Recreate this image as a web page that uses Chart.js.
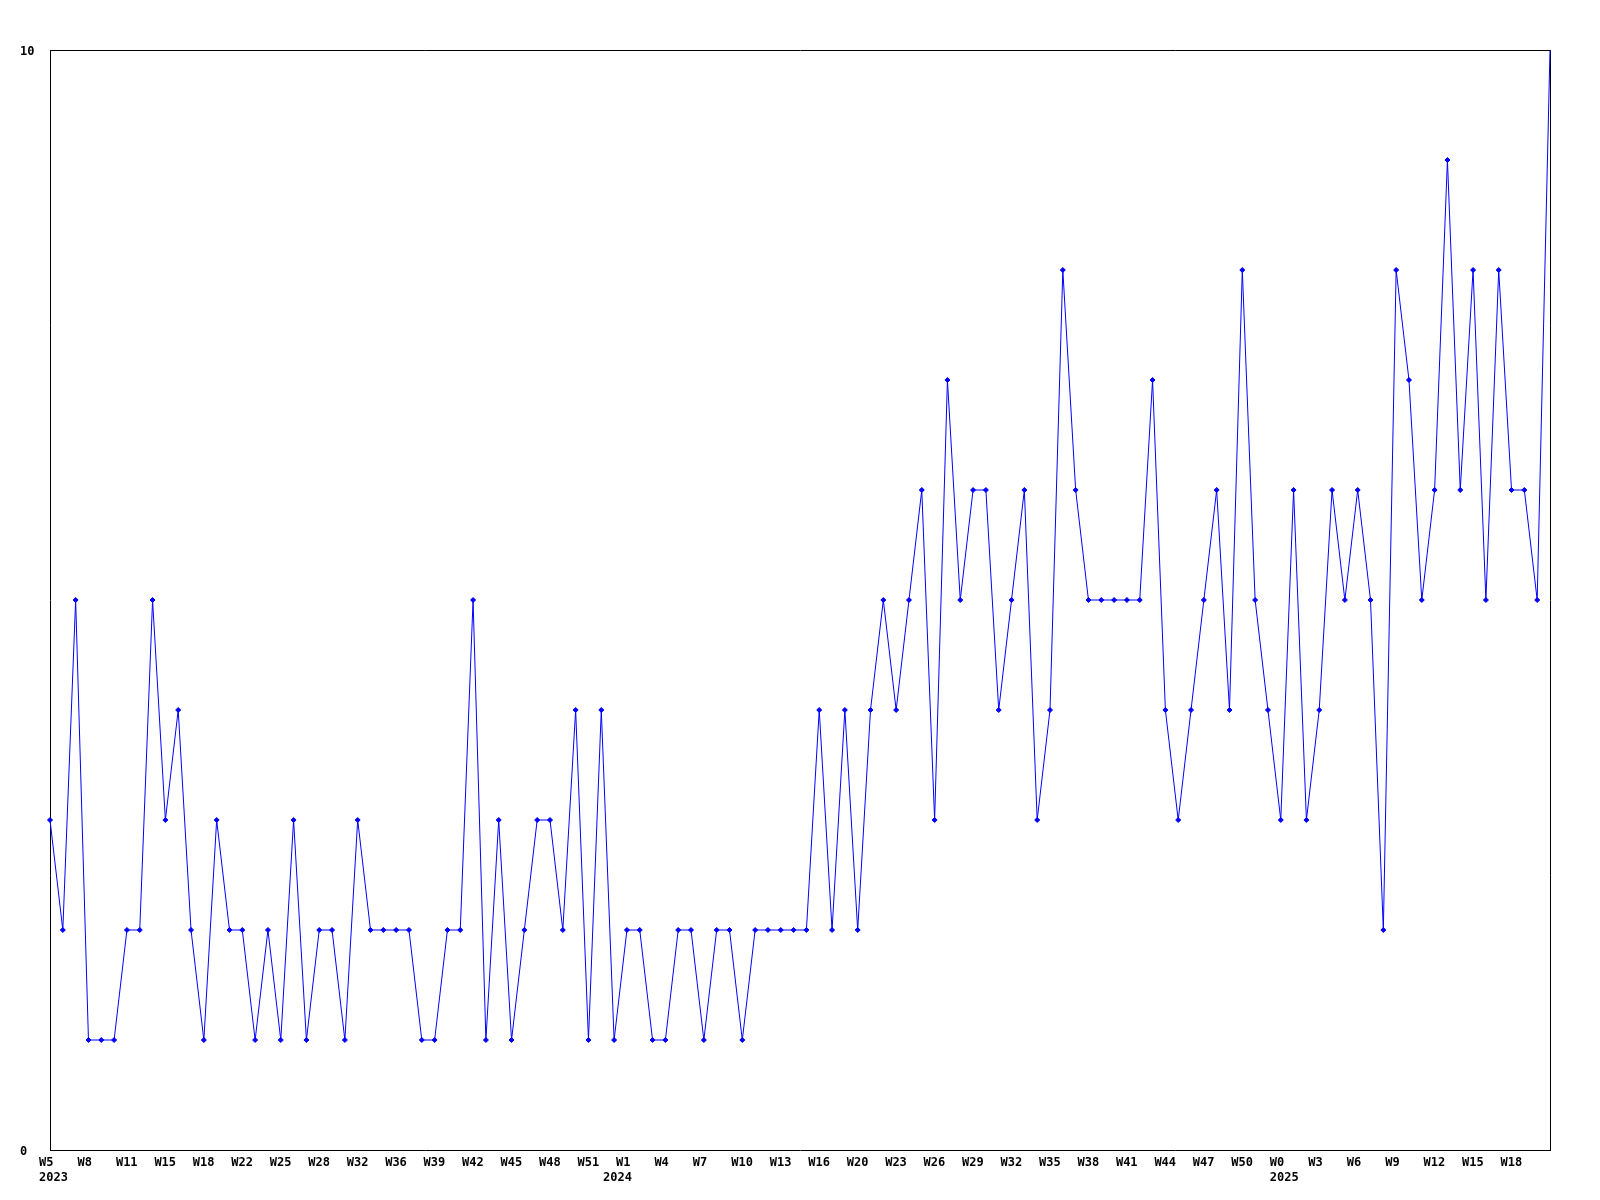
<!DOCTYPE html>
<html>
<head>
<meta charset="utf-8">
<script src="https://cdn.jsdelivr.net/npm/chart.js@4/dist/chart.umd.min.js"></script>
<style>
  html, body { margin: 0; padding: 0; background: #ffffff; }
  canvas { display: block; }
</style>
</head>
<body>
<canvas id="c" width="1600" height="1200"></canvas>
<script>
// ---- data ----
const values = [
  3,2,5,1,1,1,2,2,5,3,
  4,2,1,3,2,2,1,2,1,3,
  1,2,2,1,3,2,2,2,2,1,
  1,2,2,5,1,3,1,2,3,3,
  2,4,1,4,1,2,2,1,1,2,
  2,1,2,2,1,2,2,2,2,2,
  4,2,4,2,4,5,4,5,6,3,
  7,5,6,6,4,5,6,3,4,8,
  6,5,5,5,5,5,7,4,3,4,
  5,6,4,8,5,4,3,6,3,4,
  6,5,6,5,2,8,7,5,6,9,
  6,8,5,8,6,6,5,10
];
// week labels shown on every third point
const weekTickLabels = [
  'W5','W8','W11','W15','W18','W22','W25','W28','W32','W36','W39','W42','W45','W48','W51',
  'W1','W4','W7','W10','W13','W16','W20','W23','W26','W29','W32','W35','W38','W41','W44','W47','W50',
  'W0','W3','W6','W9','W12','W15','W18'
];
const weekTickEvery = 3;
const yearLabels = ['2023', '2024', '2025'];
const yearStartIndex = [0, 44, 96];
const yTickValues = [0, 10];

// ---- build category labels (two lines: week, year) ----
const categories = values.map((v, i) => {
  const wk = (i % weekTickEvery === 0) ? (weekTickLabels[i / weekTickEvery] || '') : '';
  const yi = yearStartIndex.indexOf(i);
  const yr = yi >= 0 ? yearLabels[yi] : '';
  return [wk, yr];
});

const tickFont = { family: '"DejaVu Sans Mono", monospace', size: 12, weight: 'bold', lineHeight: 1.28 };

new Chart(document.getElementById('c'), {
  type: 'line',
  data: {
    labels: categories,
    datasets: [{
      data: values,
      borderColor: '#0000ff',
      backgroundColor: '#0000ff',
      borderWidth: 1,
      pointStyle: 'rectRot',
      pointRadius: (ctx) => ctx.dataIndex === values.length - 1 ? 0 : 2.5,
      pointBorderWidth: 1,
      pointBorderColor: '#0000ff',
      pointBackgroundColor: '#0000ff',
      tension: 0,
      fill: false
    }]
  },
  options: {
    responsive: false,
    animation: false,
    devicePixelRatio: 1,
    layout: { padding: { top: 50, right: 50, left: 20, bottom: 0 } },
    plugins: { legend: { display: false }, tooltip: { enabled: false }, title: { display: false } },
    scales: {
      x: {
        type: 'category',
        position: 'bottom',
        offset: false,
        grid: { display: false, drawTicks: false },
        border: { display: true, color: '#000000', width: 1 },
        ticks: {
          autoSkip: false,
          maxRotation: 0,
          minRotation: 0,
          align: 'start',
          labelOffset: -11,
          padding: 5,
          color: '#000000',
          font: tickFont
        },
        afterFit: (s) => { s.height = 50; }
      },
      y: {
        type: 'linear',
        position: 'left',
        min: 0,
        max: 10,
        grid: { display: false, drawTicks: false },
        border: { display: true, color: '#000000', width: 1 },
        afterBuildTicks: (s) => { s.ticks = yTickValues.map(v => ({ value: v })); },
        ticks: {
          crossAlign: 'far',
          padding: 0,
          labelOffset: 2,
          color: '#000000',
          font: tickFont
        },
        afterFit: (s) => { s.width = 30; }
      },
      xTop: {
        type: 'linear',
        position: 'top',
        min: 0, max: 1,
        grid: { display: false, drawTicks: false },
        border: { display: true, color: '#000000', width: 1 },
        ticks: { display: false },
        afterFit: (s) => { s.height = 0; }
      },
      yRight: {
        type: 'linear',
        position: 'right',
        min: 0, max: 1,
        grid: { display: false, drawTicks: false },
        border: { display: true, color: '#000000', width: 1 },
        ticks: { display: false },
        afterFit: (s) => { s.width = 0; }
      }
    }
  }
});
</script>
</body>
</html>
